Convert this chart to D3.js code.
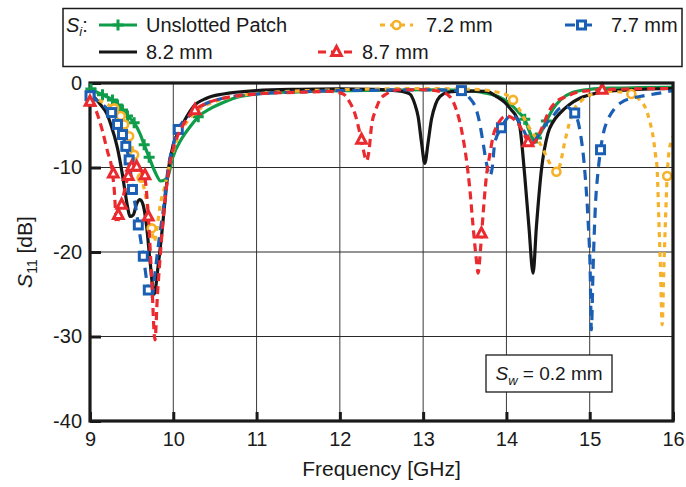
<!DOCTYPE html>
<html><head><meta charset="utf-8">
<script src="https://cdn.jsdelivr.net/npm/d3@7/dist/d3.min.js"></script>
<style>
html,body{margin:0;padding:0;background:#fff;}
svg{display:block;font-family:"Liberation Sans",Arial,Helvetica,sans-serif;}
</style></head>
<body><svg id="c" width="686" height="487"></svg>
<script>
// ---------- data ----------
const xTicks = [9, 10, 11, 12, 13, 14, 15, 16];
const yTicks = [0, -10, -20, -30, -40];
const seriesNames = ["Unslotted Patch", "7.2 mm", "7.7 mm", "8.2 mm", "8.7 mm"];

const unslottedF = [9.0, 9.15, 9.27, 9.33, 9.39, 9.45, 9.53, 9.6, 9.65, 9.71, 9.78, 9.85, 9.93, 9.99, 10.1, 10.2, 10.3, 10.45, 10.6, 10.8, 11.0, 11.5, 12.0, 12.5, 13.0, 13.4, 13.7, 13.9, 14.05, 14.15, 14.22, 14.28, 14.33, 14.4, 14.48, 14.55, 14.65, 14.8, 15.0, 15.3, 15.6, 16.0];
const unslottedDB = [-0.7, -1.4, -2.0, -2.6, -3.2, -3.9, -4.7, -6.0, -7.3, -8.8, -10.5, -11.6, -11.2, -8.9, -6.6, -5.2, -4.0, -3.0, -2.3, -1.6, -1.3, -1.05, -0.9, -0.85, -0.8, -0.85, -1.1, -1.6, -2.5, -3.5, -4.3, -5.8, -6.8, -6.1, -4.5, -3.2, -2.0, -1.1, -0.75, -0.6, -0.55, -0.5];
const unslottedMk = [[9.01, -0.7], [9.15, -1.4], [9.27, -2.0], [9.33, -2.6], [9.39, -3.2], [9.45, -3.9], [9.53, -4.7], [9.65, -7.3], [9.71, -8.8], [10.30, -4.0], [14.22, -4.3], [14.36, -6.5], [14.48, -4.5]];

const s72F = [9.0, 9.1, 9.2, 9.29, 9.37, 9.41, 9.47, 9.53, 9.58, 9.62, 9.68, 9.74, 9.77, 9.8, 9.84, 9.9, 9.96, 10.04, 10.15, 10.3, 10.5, 10.8, 11.2, 12.0, 12.5, 13.0, 13.4, 13.7, 13.9, 14.0, 14.08, 14.16, 14.24, 14.32, 14.4, 14.5, 14.56, 14.6, 14.64, 14.7, 14.76, 14.82, 14.9, 14.96, 15.1, 15.24, 15.4, 15.5, 15.6, 15.68, 15.72, 15.76, 15.79, 15.81, 15.83, 15.85, 15.87, 15.89, 15.91, 15.93, 15.95, 15.98, 16.0];
const s72DB = [-1.4, -2.0, -2.5, -3.0, -3.9, -4.9, -6.3, -8.5, -10.0, -11.2, -14.0, -17.2, -18.8, -17.5, -14.6, -12.2, -9.5, -6.8, -4.8, -3.2, -2.2, -1.5, -1.1, -0.8, -0.7, -0.65, -0.7, -0.8, -1.1, -1.4, -2.0, -3.2, -4.7, -6.0, -7.1, -9.1, -10.2, -10.5, -9.8, -7.0, -4.6, -3.0, -2.1, -1.6, -1.2, -1.0, -1.1, -1.3, -2.0, -3.2, -4.5, -6.3, -8.5, -10.3, -16.2, -22.1, -28.6, -22.0, -16.2, -11.0, -8.3, -6.9, -6.3];
const s72Mk = [[9.29, -3.0], [9.37, -3.9], [9.41, -4.9], [9.47, -6.3], [9.53, -8.5], [9.62, -11.2], [9.74, -17.2], [14.08, -2.0], [14.60, -10.5], [15.50, -1.3], [15.93, -11.0]];

const s77F = [9.0, 9.1, 9.2, 9.26, 9.33, 9.39, 9.43, 9.47, 9.51, 9.55, 9.58, 9.64, 9.7, 9.74, 9.78, 9.83, 9.88, 9.94, 10.0, 10.06, 10.2, 10.4, 10.6, 11.0, 11.5, 12.0, 12.5, 13.0, 13.3, 13.46, 13.56, 13.64, 13.68, 13.72, 13.76, 13.8, 13.83, 13.86, 13.94, 14.0, 14.06, 14.13, 14.2, 14.3, 14.4, 14.48, 14.56, 14.64, 14.72, 14.78, 14.82, 14.88, 14.94, 14.98, 15.005, 15.02, 15.04, 15.07, 15.1, 15.13, 15.17, 15.22, 15.3, 15.38, 15.5, 15.6, 15.84, 16.0];
const s77DB = [-1.5, -2.2, -3.0, -3.75, -4.9, -6.1, -7.5, -9.1, -12.6, -14.8, -16.8, -20.5, -24.5, -25.6, -22.5, -18.5, -15.0, -10.0, -7.3, -5.5, -3.8, -2.4, -1.8, -1.3, -1.05, -0.9, -0.85, -0.8, -0.85, -0.9, -1.8, -3.2, -4.8, -7.1, -9.5, -11.0, -10.0, -7.1, -5.3, -4.3, -3.75, -4.3, -5.5, -7.1, -6.0, -4.8, -3.9, -3.0, -2.8, -3.2, -3.55, -5.5, -10.3, -16.2, -22.0, -29.2, -22.1, -14.2, -10.5, -7.9, -5.7, -4.3, -3.0, -2.3, -1.8, -1.6, -1.2, -0.9];
const s77Mk = [[9.0, -1.5], [9.26, -3.5], [9.33, -4.9], [9.39, -6.1], [9.43, -7.5], [9.47, -9.1], [9.51, -12.6], [9.58, -16.8], [9.64, -20.5], [9.70, -24.5], [10.06, -5.5], [13.46, -0.9], [13.94, -5.3], [14.82, -3.55], [15.13, -7.9]];

const s82F = [9.0, 9.06, 9.13, 9.2, 9.25, 9.33, 9.39, 9.42, 9.45, 9.48, 9.52, 9.56, 9.6, 9.64, 9.68, 9.72, 9.77, 9.82, 9.86, 9.9, 9.94, 10.0, 10.08, 10.16, 10.24, 10.4, 10.6, 11.0, 11.5, 12.0, 12.4, 12.6, 12.75, 12.84, 12.9, 12.94, 12.98, 13.02, 13.06, 13.1, 13.15, 13.2, 13.3, 13.4, 13.6, 13.76, 13.88, 13.98, 14.06, 14.12, 14.16, 14.22, 14.27, 14.32, 14.36, 14.42, 14.5, 14.56, 14.64, 14.75, 14.88, 15.0, 15.2, 15.5, 16.0];
const s82DB = [-1.2, -1.8, -2.6, -3.6, -4.9, -7.7, -10.9, -12.8, -14.6, -15.8, -15.6, -14.3, -13.8, -14.5, -17.0, -21.0, -25.0, -21.5, -18.0, -14.0, -10.3, -7.3, -5.5, -4.0, -2.8, -1.8, -1.3, -0.9, -0.75, -0.7, -0.75, -0.85, -1.0, -1.3, -2.5, -4.0, -7.0, -9.5, -7.0, -4.3, -2.5, -1.6, -1.1, -1.0, -0.95, -1.0, -1.6, -2.3, -3.2, -4.0, -5.1, -11.0, -17.0, -22.5, -17.0, -10.3, -5.9, -4.6, -3.6, -2.6, -1.8, -1.4, -1.0, -0.8, -0.65];

const s87F = [9.0, 9.07, 9.15, 9.21, 9.26, 9.29, 9.32, 9.35, 9.38, 9.42, 9.46, 9.5, 9.53, 9.56, 9.6, 9.63, 9.66, 9.7, 9.74, 9.78, 9.81, 9.84, 9.88, 9.92, 9.97, 10.02, 10.1, 10.16, 10.26, 10.4, 10.6, 11.0, 11.5, 11.9, 12.04, 12.12, 12.18, 12.23, 12.28, 12.32, 12.35, 12.38, 12.43, 12.48, 12.56, 12.72, 13.0, 13.2, 13.32, 13.4, 13.46, 13.52, 13.56, 13.6, 13.64, 13.66, 13.69, 13.72, 13.76, 13.8, 13.84, 13.9, 14.0, 14.08, 14.16, 14.22, 14.28, 14.34, 14.4, 14.46, 14.52, 14.6, 14.72, 14.85, 15.0, 15.15, 15.5, 16.0];
const s87DB = [-2.0, -3.2, -5.7, -8.1, -10.0, -12.5, -16.6, -15.8, -14.4, -12.5, -11.0, -9.9, -9.6, -9.8, -10.3, -10.6, -11.3, -15.8, -23.0, -30.4, -25.0, -20.9, -16.0, -12.2, -9.0, -7.1, -5.3, -4.3, -3.2, -2.4, -1.8, -1.3, -1.1, -1.0, -1.3, -2.3, -3.6, -5.5, -7.8, -9.2, -8.0, -5.1, -3.2, -2.0, -1.3, -0.8, -0.8, -1.0, -1.6, -3.2, -5.5, -9.1, -12.5, -17.0, -21.0, -22.5, -19.5, -15.5, -11.0, -8.5, -6.3, -4.8, -3.9, -4.2, -5.1, -6.2, -7.3, -7.0, -5.9, -4.5, -3.2, -2.2, -1.6, -1.1, -0.9, -0.8, -0.7, -0.65];
const s87Mk = [[9.0, -2.2], [9.28, -10.7], [9.34, -15.6], [9.38, -14.4], [9.46, -11.0], [9.50, -9.9], [9.56, -9.9], [9.66, -10.9], [9.70, -15.8], [10.26, -3.2], [12.26, -6.7], [13.70, -17.8], [14.26, -7.0], [15.15, -0.8]];

// ---------- layout ----------
const svg = d3.select("#c");
const L = 90, R = 673, T = 83, B = 421;
const x = d3.scaleLinear().domain([9, 16]).range([L, R]);
const y = d3.scaleLinear().domain([-40, 0]).range([B, T]);

const series = [
  {name: seriesNames[0], f: unslottedF, v: unslottedDB, mk: unslottedMk, color: "#0f9d4a", dash: null, marker: "plus"},
  {name: seriesNames[3], f: s82F, v: s82DB, mk: [], color: "#161616", dash: null, marker: null},
  {name: seriesNames[1], f: s72F, v: s72DB, mk: s72Mk, color: "#f6b128", dash: "5,5", marker: "circle"},
  {name: seriesNames[2], f: s77F, v: s77DB, mk: s77Mk, color: "#1b5fb5", dash: "10,7", marker: "square"},
  {name: seriesNames[4], f: s87F, v: s87DB, mk: s87Mk, color: "#ea2a2f", dash: "8,5", marker: "triangle"}
];

// grid
const grid = svg.append("g");
grid.selectAll("line.vx").data(xTicks.slice(1, -1)).join("line")
  .attr("x1", d => x(d)).attr("x2", d => x(d)).attr("y1", T).attr("y2", B)
  .attr("stroke", "#3a3a3a").attr("stroke-width", 1);
grid.selectAll("line.hy").data(yTicks.slice(1, -1)).join("line")
  .attr("x1", L).attr("x2", R).attr("y1", d => y(d)).attr("y2", d => y(d))
  .attr("stroke", "#2a2a2a").attr("stroke-width", 1);

// clip
svg.append("clipPath").attr("id", "clip").append("rect")
  .attr("x", L).attr("y", T - 2).attr("width", R - L).attr("height", B - T + 2);

const line = d3.line().x(d => x(d[0])).y(d => y(d[1])).curve(d3.curveMonotoneX);
const plot = svg.append("g").attr("clip-path", "url(#clip)");
const marks = svg.append("g");

function drawMarker(g, type, cx, cy, color) {
  if (type === "plus") {
    g.append("path").attr("d", `M${cx - 5.5},${cy}H${cx + 5.5}M${cx},${cy - 5.5}V${cy + 5.5}`)
      .attr("stroke", color).attr("stroke-width", 3).attr("fill", "none");
  } else if (type === "circle") {
    g.append("circle").attr("cx", cx).attr("cy", cy).attr("r", 4)
      .attr("stroke", color).attr("stroke-width", 2.6).attr("fill", "#fff");
  } else if (type === "square") {
    g.append("rect").attr("x", cx - 4).attr("y", cy - 4).attr("width", 8).attr("height", 8)
      .attr("stroke", color).attr("stroke-width", 3).attr("fill", "#fff");
  } else if (type === "triangle") {
    g.append("path").attr("d", `M${cx},${cy - 5.5}L${cx + 4.8},${cy + 3.6}L${cx - 4.8},${cy + 3.6}Z`)
      .attr("stroke", color).attr("stroke-width", 3).attr("fill", "#fff").attr("stroke-linejoin", "miter");
  }
}

series.forEach(s => {
  const pts = s.f.map((f, i) => [f, s.v[i]]);
  const p = plot.append("path").datum(pts).attr("d", line)
    .attr("fill", "none").attr("stroke", s.color).attr("stroke-width", 3.2);
  if (s.dash) p.attr("stroke-dasharray", s.dash);
  const mg = plot.append("g");
  s.mk.forEach(m => drawMarker(mg, s.marker, x(m[0]), y(m[1]), s.color));
});

// axes
const fmt = d => String(d);
const xAxis = svg.append("g").attr("transform", `translate(0,${B})`)
  .call(d3.axisBottom(x).tickValues(xTicks).tickSize(-9).tickPadding(11).tickFormat(fmt));
const yAxis = svg.append("g").attr("transform", `translate(${L},0)`)
  .call(d3.axisLeft(y).tickValues(yTicks).tickSize(-11).tickPadding(8).tickFormat(fmt));
[xAxis, yAxis].forEach(a => {
  a.select(".domain").remove();
  a.selectAll(".tick line").attr("stroke", "#1a1a1a").attr("stroke-width", 3);
  a.selectAll(".tick text").attr("fill", "#1a1a1a").style("font-size", "20px")
    .style("font-family", "'Liberation Sans',Arial,sans-serif");
});

// frame
svg.append("rect").attr("x", L).attr("y", T).attr("width", R - L).attr("height", B - T)
  .attr("fill", "none").attr("stroke", "#1a1a1a").attr("stroke-width", 3.2);

// markers sitting on the left frame edge stay visible (unclipped copies)
series.forEach(s => {
  s.mk.filter(m => m[0] <= 9.02).forEach(m => drawMarker(marks, s.marker, x(m[0]), y(m[1]), s.color));
});
marks.raise();

// axis titles
svg.append("text").attr("x", (L + R) / 2).attr("y", 476).attr("text-anchor", "middle")
  .style("font-size", "21px").attr("fill", "#1a1a1a").text("Frequency [GHz]");
const yt = svg.append("text").attr("transform", `translate(32,${(T + B) / 2}) rotate(-90)`)
  .attr("text-anchor", "middle").style("font-size", "21px").attr("fill", "#1a1a1a");
yt.append("tspan").style("font-style", "italic").text("S");
yt.append("tspan").attr("dy", 5).style("font-size", "14px").text("11");
yt.append("tspan").attr("dy", -5).text(" [dB]");

// annotation box
svg.append("rect").attr("x", 486).attr("y", 355).attr("width", 126).attr("height", 37)
  .attr("fill", "#fff").attr("stroke", "#1a1a1a").attr("stroke-width", 1.3);
const an = svg.append("text").attr("x", 549).attr("y", 380).attr("text-anchor", "middle")
  .style("font-size", "19px").attr("fill", "#1a1a1a");
an.append("tspan").style("font-style", "italic").text("S");
an.append("tspan").attr("dy", 5).style("font-size", "13px").style("font-style", "italic").text("w");
an.append("tspan").attr("dy", -5).text(" = 0.2 mm");

// legend
const lg = svg.append("g");
lg.append("rect").attr("x", 63).attr("y", 8.5).attr("width", 619).attr("height", 58)
  .attr("fill", "#fff").attr("stroke", "#1a1a1a").attr("stroke-width", 1.5);
const si = lg.append("text").attr("x", 66).attr("y", 32).style("font-size", "20px").attr("fill", "#1a1a1a");
si.append("tspan").style("font-style", "italic").text("S");
si.append("tspan").attr("dy", 4).style("font-size", "13px").style("font-style", "italic").text("i");
si.append("tspan").attr("dy", -4).text(":");

const legendItems = [
  {s: series[0], x0: 99, x1: 137, tx: 146, cy: 25},
  {s: series[2], x0: 380, x1: 413, tx: 426, cy: 25},
  {s: series[3], x0: 565, x1: 598, tx: 611, cy: 25},
  {s: series[1], x0: 99, x1: 137, tx: 146, cy: 52},
  {s: series[4], x0: 318, x1: 355, tx: 362, cy: 52}
];
legendItems.forEach(it => {
  const l = lg.append("line").attr("x1", it.x0).attr("x2", it.x1).attr("y1", it.cy).attr("y2", it.cy)
    .attr("stroke", it.s.color).attr("stroke-width", 3.2);
  if (it.s.dash) l.attr("stroke-dasharray", it.s.dash);
  if (it.s.marker) drawMarker(lg, it.s.marker, (it.x0 + it.x1) / 2, it.cy, it.s.color);
  lg.append("text").attr("x", it.tx).attr("y", it.cy + 7).style("font-size", "20px")
    .attr("fill", "#1a1a1a").text(it.s.name);
});
</script></body></html>
